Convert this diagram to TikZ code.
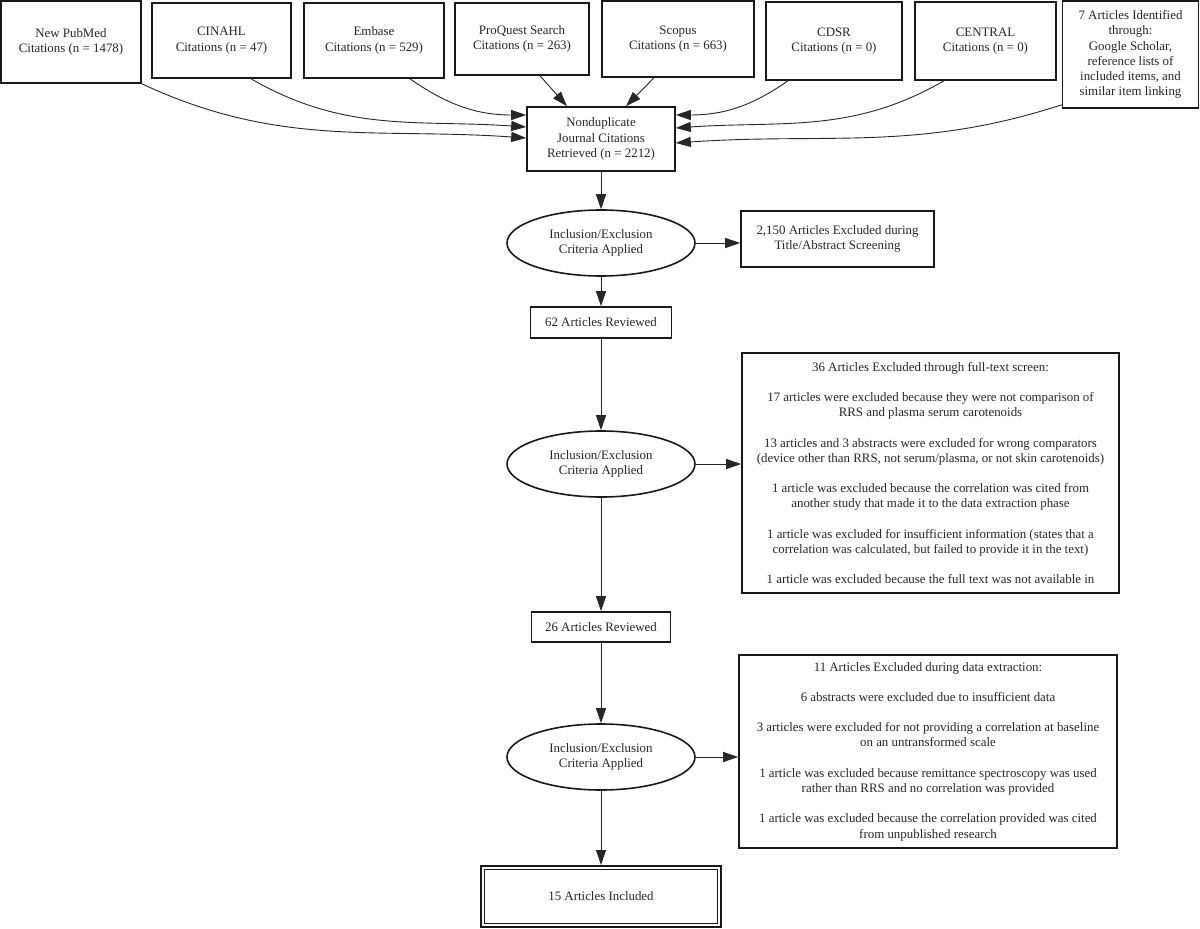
\documentclass[tikz,border=0pt]{standalone}
\usepackage{fontspec}
\setmainfont{Liberation Serif}
\usetikzlibrary{arrows.meta,shapes.geometric}
\begin{document}
\begin{tikzpicture}[x=1pt,y=1pt,
  every node/.style={font=\fontsize{12.9}{15.3}\selectfont, text=black!85, align=center, inner sep=0pt},
  box/.style={draw=black!90, line width=1.6pt, rectangle},
  ell/.style={draw=black!90, line width=1.6pt, ellipse, minimum width=188pt, minimum height=66pt},
  arr/.style={draw=black!85, line width=0.9pt, -{Triangle[length=15pt,width=10pt]}},
]
\useasboundingbox (0,0) rectangle (1200,-929);

% top row
\node[box, minimum width=140pt, minimum height=82pt] (pubmed) at (71,-42) {New PubMed\\Citations (n = 1478)};
\node[box, minimum width=139pt, minimum height=75pt] (cinahl) at (221.5,-40.5) {CINAHL\\Citations (n = 47)};
\node[box, minimum width=140pt, minimum height=75pt] (embase) at (374,-40.5) {Embase\\Citations (n = 529)};
\node[box, minimum width=134pt, minimum height=72pt] (proquest) at (522,-39) {ProQuest Search\\Citations (n = 263)};
\node[box, minimum width=152pt, minimum height=76pt] (scopus) at (678,-39) {Scopus\\Citations (n = 663)};
\node[box, minimum width=136pt, minimum height=78pt] (cdsr) at (834,-41) {CDSR\\Citations (n = 0)};
\node[box, minimum width=141pt, minimum height=78pt] (central) at (985.5,-41) {CENTRAL\\Citations (n = 0)};
\node[box, minimum width=136pt, minimum height=107pt] (seven) at (1130.5,-54.5) {7 Articles Identified\\through:\\Google Scholar,\\reference lists of\\included items, and\\similar item linking};

% central column
\node[box, minimum width=148pt, minimum height=64pt] (nondup) at (601,-139) {Nonduplicate\\Journal Citations\\Retrieved (n = 2212)};
\node[ell] (ell1) at (601,-243) {Inclusion/Exclusion\\Criteria Applied};
\node[box, minimum width=193pt, minimum height=56pt] (ex1) at (837.5,-239) {2,150 Articles Excluded during\\Title/Abstract Screening};
\node[box, minimum width=141pt, minimum height=31pt] (rev62) at (601,-322.5) {62 Articles Reviewed};
\node[ell] (ell2) at (601,-464) {Inclusion/Exclusion\\Criteria Applied};
\node[box, minimum width=377pt, minimum height=240pt] (ex2) at (930.5,-473) {36 Articles Excluded through full-text screen:\\[15pt]
17 articles were excluded because they were not comparison of\\
RRS and plasma serum carotenoids\\[15pt]
13 articles and 3 abstracts were excluded for wrong comparators\\
(device other than RRS, not serum/plasma, or not skin carotenoids)\\[15pt]
1 article was excluded because the correlation was cited from\\
another study that made it to the data extraction phase\\[15pt]
1 article was excluded for insufficient information (states that a\\
correlation was calculated, but failed to provide it in the text)\\[15pt]
1 article was excluded because the full text was not available in};
\node[box, minimum width=139pt, minimum height=30pt] (rev26) at (601,-627) {26 Articles Reviewed};
\node[ell] (ell3) at (601,-757) {Inclusion/Exclusion\\Criteria Applied};
\node[box, minimum width=378pt, minimum height=193pt] (ex3) at (928,-751.5) {11 Articles Excluded during data extraction:\\[15pt]
6 abstracts were excluded due to insufficient data\\[15pt]
3 articles were excluded for not providing a correlation at baseline\\
on an untransformed scale\\[15pt]
1 article was excluded because remittance spectroscopy was used\\
rather than RRS and no correlation was provided\\[15pt]
1 article was excluded because the correlation provided was cited\\
from unpublished research};
\node[box, line width=2.4pt, minimum width=239.6pt, minimum height=60.6pt] (incl) at (601,-896.5) {15 Articles Included};
\draw[black!90, line width=1.2pt] ([shift={(4.5pt,4.5pt)}]incl.south west) rectangle ([shift={(-4.5pt,-4.5pt)}]incl.north east);

% converging edges
\draw[arr] (pubmed.south east) to[out=-25, in=176] ([yshift=1pt]nondup.west);
\draw[arr] ([xshift=29.5pt]cinahl.south) to[out=-30, in=176] ([yshift=12pt]nondup.west);
\draw[arr] ([xshift=36pt]embase.south) to[out=-35, in=180] ([yshift=24pt]nondup.west);
\draw[arr] ([xshift=18pt]proquest.south) -- ([xshift=-34pt]nondup.north);
\draw[arr] ([xshift=-24pt]scopus.south) -- ([xshift=25pt]nondup.north);
\draw[arr] ([xshift=-46pt]cdsr.south) to[out=-145, in=0] ([yshift=24pt]nondup.east);
\draw[arr] ([xshift=-41.5pt]central.south) to[out=-150, in=4] ([yshift=11pt]nondup.east);
\draw[arr] ([yshift=4pt]seven.south west) to[out=-162, in=4] ([yshift=-4pt]nondup.east);

% main flow
\draw[arr] (nondup.south) -- (ell1.north);
\draw[arr] (ell1.east) -- (ell1.east -| ex1.west);
\draw[arr] (ell1.south) -- (rev62.north);
\draw[arr] (rev62.south) -- (ell2.north);
\draw[arr] (ell2.east) -- (ell2.east -| ex2.west);
\draw[arr] (ell2.south) -- (rev26.north);
\draw[arr] (rev26.south) -- (ell3.north);
\draw[arr] (ell3.east) -- (ell3.east -| ex3.west);
\draw[arr] (ell3.south) -- (incl.north);
\end{tikzpicture}
\end{document}
